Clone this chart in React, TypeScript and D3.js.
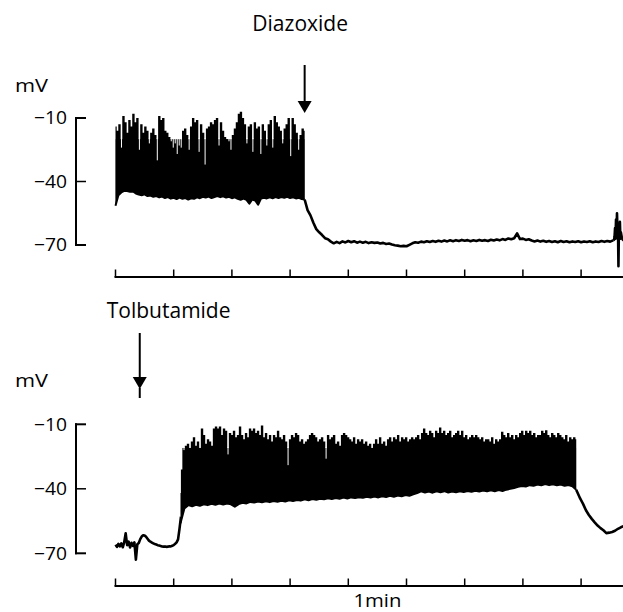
import React from 'react';
import * as d3 from 'd3';

const W = 623;
const H = 612;
const FONT = "'Open Sans', 'DejaVu Sans', sans-serif";

// ---- axis / label data (time in seconds, voltage in mV) ----
const timeTicks = [0, 60, 120, 180, 240, 300, 360, 420, 480];
const voltTicks = [-10, -40, -70];
const voltTickLabels = ['\u221210', '\u221240', '\u221270'];
const unitLabel = 'mV';
const scaleBarLabel = '1min';
const scaleBarTimes = [240, 300];
const drugNames = ['Diazoxide', 'Tolbutamide'];
const drugTimes = [195, 25];

// ---- top trace (diazoxide) ----
const topBurstWindow = [0, 195];
const topSpikePeaks = [
  -14, -16, -13, -24, -9, -12, -17, -11, -14, -8,
  -12, -10, -25, -13, -17, -14, -16, -22, -17, -15,
  -18, -30, -9, -11, -10, -16, -17, -19, -21, -24,
  -22, -27, -23, -24, -16, -15, -18, -25, -14, -10,
  -12, -11, -26, -13, -17, -32, -15, -14, -12, -13,
  -11, -10, -23, -12, -16, -19, -20, -21, -25, -18,
  -15, -12, -8, -7, -10, -13, -22, -14, -13, -26,
  -12, -15, -14, -27, -13, -16, -23, -13, -11, -24,
  -9, -12, -14, -16, -22, -15, -13, -10, -28, -10,
  -13, -17, -25, -18, -15, -16,
];
const topTroughStart = 0;
const topTroughStep = 3;
const topTroughs = [
  -51.5, -46.5, -45.2, -44.4, -44.5, -44.9, -44.7, -45.7, -46.2, -46.5,
  -46.1, -46.9, -46.6, -47.2, -46.9, -47.5, -47.1, -47.8, -47.4, -48.1,
  -47.7, -48.3, -47.6, -48.2, -47.8, -48.5, -47.9, -48.2, -47.5, -47.9,
  -47.2, -47.6, -47.1, -47.8, -47.3, -46.9, -47.4, -47.0, -47.6, -47.2,
  -47.9, -47.5, -48.2, -48.6, -48.1, -48.7, -50.5, -48.5, -49.0, -51.0,
  -48.1, -47.7, -48.0, -47.5, -47.9, -47.4, -47.8, -47.3, -47.7, -47.2,
  -47.8, -47.5, -48.0, -47.7, -48.3, -48.5,
];
const topRestStart = 195;
const topRestStep = 3;
const topRest = [
  -48.5, -53.5, -56.0, -59.5, -62.5, -64.0, -65.3, -66.8, -67.3, -68.4,
  -69.2, -68.5, -69.1, -68.3, -68.8, -68.1, -68.7, -68.2, -68.9, -68.4,
  -68.9, -68.5, -69.1, -68.7, -69.0, -68.8, -69.3, -69.0, -69.5, -69.3,
  -69.8, -70.1, -70.3, -70.6, -70.4, -70.6, -69.9, -69.2, -68.7, -68.9,
  -68.4, -68.7, -68.2, -68.6, -68.1, -68.5, -68.0, -68.4, -67.9, -68.3,
  -67.8, -68.2, -67.7, -68.1, -67.6, -68.0, -67.7, -68.2, -67.8, -68.1,
  -67.6, -68.0, -67.7, -68.1, -67.5, -67.9, -67.4, -67.8, -67.2, -67.6,
  -66.9, -67.3, -66.8, -64.5, -67.2, -67.0, -67.6, -67.3, -67.9, -68.3,
  -67.9, -68.4, -68.0, -68.5, -68.1, -68.6, -68.2, -68.7, -68.1, -68.6,
  -68.2, -68.7, -68.3, -68.6, -68.2, -68.7, -68.3, -68.6, -68.2, -68.7,
  -68.3, -68.6, -68.1, -68.5, -68.1, -68.4, -67.8,
];
const topArtifact: [number, number][] = [
  [513, -67.8], [514, -67.5], [514.5, -66], [515, -62], [515.5, -67], [516, -58],
  [516.5, -66], [517, -55], [517.5, -63], [518, -60], [518.5, -80], [519, -61],
  [519.5, -66], [520, -59], [520.5, -67], [521, -64], [522, -66.5], [523, -67.5], [524, -67.8],
];

// ---- bottom trace (tolbutamide) ----
const bottomPreStart = 0;
const bottomPreStep = 1.5;
const bottomPre = [
  -66, -67, -65.6, -66.8, -65.4, -67.2, -64.8, -60.7, -66.2, -64.6,
  -67.3, -65.1, -66.6, -64.9, -73, -65.8, -65.2, -63.4, -62.2, -61.6,
  -61.7, -62.3, -63.2, -64.1, -64.6, -65.0, -65.4, -65.7, -65.9, -66.2,
  -66.4, -66.6, -66.8, -66.9, -66.8, -67.0, -66.9, -66.7, -66.8, -66.5,
  -66.2, -65.6, -64.9, -63.5, -58.5, -53,
];
const bottomBurstWindow = [66.5, 475];
const bottomSpikePeaks = [
  -42, -31, -22, -20, -19, -21, -18, -16, -20, -18,
  -21, -12, -15, -19, -17, -18, -20, -12, -11, -12,
  -11, -15, -12, -13, -24, -14, -15, -13, -16, -15,
  -11, -15, -17, -14, -16, -12, -13, -12, -14, -13,
  -15, -10.5, -16, -14, -17, -15, -18, -15, -16, -13,
  -16, -17, -15, -18, -29, -17, -15, -16, -14, -15,
  -18, -17, -19, -18, -17, -15, -14, -15, -16, -18,
  -17, -16, -18, -26, -15, -17, -16, -15, -19, -18,
  -20, -15, -14, -15, -16, -17, -18, -16, -19, -17,
  -18, -17, -19, -18, -20, -19, -21, -19, -17, -19,
  -16, -19, -18, -20, -17, -16, -18, -16, -17, -15,
  -18, -16, -17, -16, -18, -17, -16, -17, -16, -15,
  -17, -14, -12, -14, -15, -13, -14, -16, -13, -14,
  -11.5, -14, -13, -15, -14, -13, -16, -15, -14, -13,
  -15, -13, -16, -15, -17, -16, -15, -16, -15, -16,
  -17, -16, -18, -17, -17, -18, -16, -19, -17, -18,
  -17, -13.5, -15, -16, -14, -16, -15, -17, -15, -16,
  -14, -13, -15, -13, -14, -13, -15, -14, -16, -15,
  -15, -13, -14, -12.8, -15, -16, -14, -15, -16, -14,
  -15, -16, -17, -15, -18, -16, -17, -16, -17,
];
const bottomTroughStart = 67;
const bottomTroughStep = 4;
const bottomTroughs = [
  -56, -49.2, -47.6, -48.1, -47.4, -47.9, -47.2, -47.6, -47.0, -47.4,
  -46.9, -47.3, -46.8, -47.2, -48.3, -47.1, -46.5, -46.8, -46.1, -46.4,
  -45.9, -46.3, -45.8, -46.2, -45.7, -46.0, -45.6, -45.9, -45.3, -45.7,
  -45.2, -45.5, -44.9, -45.3, -44.8, -45.1, -44.6, -44.9, -44.4, -44.8,
  -44.3, -44.6, -44.1, -44.5, -44.0, -44.3, -43.9, -44.2, -43.7, -44.1,
  -43.6, -44.0, -43.5, -43.8, -43.3, -43.7, -43.1, -43.5, -42.9, -43.2,
  -42.6, -42.0, -41.2, -41.7, -41.3, -41.8, -41.2, -41.6, -41.1, -41.7,
  -41.3, -41.6, -41.1, -41.5, -41.0, -41.4, -40.9, -41.3, -40.8, -41.2,
  -40.7, -41.1, -40.6, -41.0, -40.4, -40.0, -39.6, -39.1, -38.7, -38.9,
  -38.3, -38.6, -38.0, -38.4, -37.8, -38.3, -37.9, -38.4, -38.0, -38.6,
  -38.2, -38.8, -40.5,
];
const bottomPostStart = 476;
const bottomPostStep = 3;
const bottomPost = [
  -41.5, -44.5, -47, -50, -52.2, -54, -55.6, -57.1, -58.3, -59.3,
  -60.6, -60.4, -60.1, -59.5, -58.6, -57.9, -57.3,
];

type Pt = [number, number];
const sampled = (start: number, step: number, vals: number[]): Pt[] =>
  vals.map((v, i) => [start + i * step, v] as Pt);
const spread = (w: number[], vals: number[]): Pt[] =>
  vals.map((v, i) => [w[0] + (i * (w[1] - w[0])) / (vals.length - 1), v] as Pt);

const xScale = d3.scaleLinear().domain([0, 540]).range([115.5, 115.5 + 9 * 58.2]);

interface PanelProps {
  id: string;
  yTop: number;
  yBottom: number;
  axisY: number;
  unitY: number;
  peaks: Pt[];
  troughs: Pt[];
  slow: Pt[][];
  bodyTop: number;
  bodyStart: number;
  bodyEnd: number;
  showScaleLabel?: boolean;
}

function Panel(p: PanelProps) {
  const y = d3.scaleLinear().domain([-70, -10]).range([p.yBottom, p.yTop]);
  const line = d3.line<Pt>().x((d) => xScale(d[0])).y((d) => y(d[1]));
  const clipArea = d3
    .area<Pt>()
    .x((d) => xScale(d[0]))
    .y0((d) => y(d[1]))
    .y1(p.yTop - 40);
  const barW = xScale(p.peaks[1][0]) - xScale(p.peaks[0][0]) + 0.4;
  const barPath = p.peaks.map(([t, v]) => `M${xScale(t)},${y(-80)}V${y(v)}`).join('');
  const slitPath = p.peaks
    .filter(([t, v]) => v < p.bodyTop && t > p.bodyStart)
    .map(([t, v]) => `M${xScale(t)},${y(v)}V${y(p.bodyTop) - 1}`)
    .join('');
  const axisX = 76;
  return (
    <g>
      <defs>
        <clipPath id={p.id}>
          <path d={clipArea(p.troughs) || ''} />
        </clipPath>
      </defs>
      <g clipPath={`url(#${p.id})`}>
        <rect
          x={xScale(p.bodyStart)}
          width={xScale(p.bodyEnd) - xScale(p.bodyStart)}
          y={y(p.bodyTop)}
          height={y(-80) - y(p.bodyTop)}
          fill="#000"
        />
        <path d={barPath} stroke="#000" strokeWidth={barW} fill="none" />
        <path d={slitPath} stroke="#fff" strokeWidth={1} fill="none" />
      </g>
      <path d={line(p.troughs) || ''} stroke="#000" strokeWidth={2} fill="none" strokeLinejoin="round" />
      {p.slow.map((s, i) => (
        <path key={i} d={line(s) || ''} stroke="#000" strokeWidth={2.6} fill="none" strokeLinejoin="round" />
      ))}

      {/* voltage axis */}
      <line x1={axisX} x2={axisX} y1={y(-10) - 1} y2={y(-70) + 1} stroke="#000" strokeWidth={2} />
      {voltTicks.map((v, i) => (
        <g key={v}>
          <line x1={axisX - 1} x2={axisX + 10} y1={y(v)} y2={y(v)} stroke="#000" strokeWidth={i === 1 ? 1.5 : 2} />
          <text
            x={67}
            y={y(v)}
            dy="0.36em"
            textAnchor="end"
            fontFamily={FONT}
            fontSize={18}
            textLength={33}
            lengthAdjust="spacingAndGlyphs"
            fill="#000"
          >
            {voltTickLabels[i]}
          </text>
        </g>
      ))}
      <text x={15} y={p.unitY} fontFamily={FONT} fontSize={18} textLength={33} lengthAdjust="spacingAndGlyphs" fill="#000">
        {unitLabel}
      </text>

      {/* time axis */}
      <line x1={xScale(0) - 1} x2={W} y1={p.axisY} y2={p.axisY} stroke="#000" strokeWidth={1.8} />
      {timeTicks.map((t) => (
        <line key={t} x1={xScale(t)} x2={xScale(t)} y1={p.axisY} y2={p.axisY - 7.5} stroke="#000" strokeWidth={1.5} />
      ))}
      {p.showScaleLabel ? (
        <text
          x={(xScale(scaleBarTimes[0]) + xScale(scaleBarTimes[1])) / 2}
          y={607}
          textAnchor="middle"
          fontFamily={FONT}
          fontSize={18}
          textLength={48}
          lengthAdjust="spacingAndGlyphs"
          fill="#000"
        >
          {scaleBarLabel}
        </text>
      ) : null}
    </g>
  );
}

function Arrow({ x, y0, tip, tail }: { x: number; y0: number; tip: number; tail: number }) {
  return (
    <g>
      <line x1={x} x2={x} y1={y0} y2={tip - 10} stroke="#000" strokeWidth={2} />
      <path d={`M${x - 7},${tip - 12}L${x + 7},${tip - 12}L${x},${tip}Z`} fill="#000" />
      {tail > 0 ? <line x1={x} x2={x} y1={tip - 1} y2={tip + tail} stroke="#000" strokeWidth={2} /> : null}
    </g>
  );
}

export default function App() {
  const topTr = sampled(topTroughStart, topTroughStep, topTroughs);
  const topRestPts = sampled(topRestStart, topRestStep, topRest);
  const botTr = sampled(bottomTroughStart, bottomTroughStep, bottomTroughs);
  const botPre = sampled(bottomPreStart, bottomPreStep, bottomPre);
  const botPost: Pt[] = [botTr[botTr.length - 1], ...sampled(bottomPostStart, bottomPostStep, bottomPost)];

  return (
    <svg
      width={W}
      height={H}
      viewBox={`0 0 ${W} ${H}`}
      style={{ position: 'absolute', left: 0, top: 0, background: '#fff', display: 'block' }}
    >
      <rect x={0} y={0} width={W} height={H} fill="#fff" />
      <Panel
        id="clipTop"
        yTop={118}
        yBottom={245}
        axisY={277}
        unitY={92}
        peaks={spread(topBurstWindow, topSpikePeaks)}
        troughs={topTr}
        slow={[topRestPts, topArtifact]}
        bodyTop={-20}
        bodyStart={topBurstWindow[0]}
        bodyEnd={topBurstWindow[1]}
      />
      <Panel
        id="clipBottom"
        yTop={424.3}
        yBottom={553.3}
        axisY={586}
        unitY={387}
        peaks={spread(bottomBurstWindow, bottomSpikePeaks)}
        troughs={botTr}
        slow={[botPre, botPost]}
        bodyTop={-21}
        bodyStart={69}
        bodyEnd={bottomBurstWindow[1]}
        showScaleLabel
      />

      <Arrow x={xScale(drugTimes[0])} y0={65} tip={113} tail={0} />
      <text x={xScale(drugTimes[0]) - 4.5} y={31} textAnchor="middle" fontFamily={FONT} fontSize={21} fill="#000">
        {drugNames[0]}
      </text>
      <Arrow x={xScale(drugTimes[1])} y0={333} tip={389} tail={9} />
      <text x={xScale(drugTimes[1]) - 33} y={318} fontFamily={FONT} fontSize={21} fill="#000">
        {drugNames[1]}
      </text>
    </svg>
  );
}
